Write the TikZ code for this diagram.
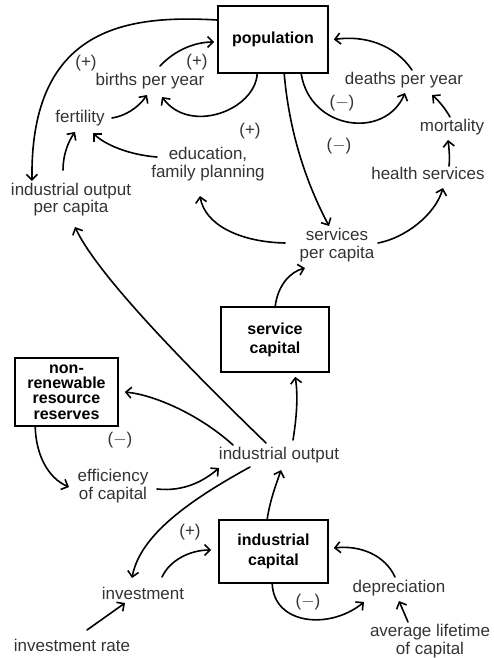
\documentclass[tikz,border=0pt]{standalone}
\usepackage{fontspec}
\setmainfont{Liberation Sans}
\usetikzlibrary{arrows.meta}
\definecolor{ink}{HTML}{333333}
\begin{document}
\begin{tikzpicture}[x=1pt,y=-1pt,
  lbl/.style={inner sep=0pt, align=center, text=ink, font=\fontsize{17}{17.5}\selectfont},
  box/.style={draw, line width=1.6pt, inner sep=0pt, align=center},
  conn/.style={line width=1.6pt, line cap=round, -{Straight Barb[length=5.5pt,width=11pt,line width=1.6pt]}}]
\useasboundingbox (0,0) rectangle (493,658);
% boxes
\node[box, minimum width=110pt, minimum height=67pt, font=\fontsize{16}{18}\bfseries] (pop) at (273,39.5) {population};
\node[box, minimum width=108pt, minimum height=65pt, font=\fontsize{16}{19}\bfseries] (scap) at (275,339.5) {service\\capital};
\node[box, minimum width=103pt, minimum height=68pt, font=\fontsize{16}{15.3}\bfseries] (nrr) at (66.5,392) {non-\\renewable\\resource\\reserves};
\node[box, minimum width=109pt, minimum height=63pt, font=\fontsize{16}{20}\bfseries] (icap) at (273.5,551.5) {industrial\\capital};
% labels
\node[lbl] (births) at (150,81) {births per year};
\node[lbl] (plusA) at (86,63) {(+)};
\node[lbl] (plusB) at (197,62) {(+)};
\node[lbl] (fert) at (80,118) {fertility};
\node[lbl] (edu) at (208,164) {education,\\family planning};
\node[lbl] (iopc) at (71,199.5) {industrial output\\per capita};
\node[lbl] (deaths) at (404,80) {deaths per year};
\node[lbl] (minusA) at (342,103) {($-$)};
\node[lbl] (mort) at (452,127) {mortality};
\node[lbl] (plusC) at (250,131) {(+)};
\node[lbl] (minusB) at (339,146) {($-$)};
\node[lbl] (health) at (428,173) {health services};
\node[lbl] (spc) at (337,245) {services\\per capita};
\node[lbl] (minusC) at (120,440) {($-$)};
\node[lbl] (io) at (279,455) {industrial output};
\node[lbl] (eff) at (113,486) {efficiency\\of capital};
\node[lbl] (plusD) at (190,532) {(+)};
\node[lbl] (inv) at (143,593) {investment};
\node[lbl] (invrate) at (72,645) {investment rate};
\node[lbl] (dep) at (399,588) {depreciation};
\node[lbl] (minusE) at (308,602) {($-$)};
\node[lbl] (avgl) at (430,641) {average lifetime\\of capital};
% connectors
\draw[conn] ([yshift=19.5pt]pop.west) .. controls (130,15) and (30,25) .. ([xshift=-39pt,yshift=18.5pt]iopc.center);
\draw[conn] ([xshift=10pt,yshift=15pt]births.center) .. controls (175,50) and (195,42) .. ([xshift=-3pt,yshift=-2.5pt]pop.west);
\draw[conn] ([xshift=40pt]pop.south west) .. controls (255,110) and (190,135) .. ([xshift=12pt,yshift=-16pt]births.center);
\draw[conn] ([xshift=32pt]fert.center) .. controls (125,116) and (138,108) .. ([xshift=-3pt,yshift=-14pt]births.center);
\draw[conn] ([xshift=-8pt,yshift=29.5pt]iopc.center) .. controls (63,155) and (68,142) .. ([xshift=-5pt,yshift=-14pt]fert.center);
\draw[conn] ([xshift=-51pt,yshift=7pt]edu.center) .. controls (130,155) and (105,145) .. ([xshift=13pt,yshift=-15pt]fert.center);
\draw[conn] ([xshift=-52pt,yshift=2pt]spc.center) .. controls (240,242) and (205,225) .. ([xshift=-8pt,yshift=-32pt]edu.center);
\draw[conn] ([xshift=84pt]pop.south west) .. controls (310,130) and (385,140) .. ([xshift=1pt,yshift=-13pt]deaths.center);
\draw[conn] ([xshift=8pt,yshift=10pt]deaths.center) .. controls (395,45) and (365,35) .. ([xshift=5pt]pop.east);
\draw[conn] ([xshift=-2pt,yshift=10pt]mort.center) .. controls (445,108) and (438,100) .. ([xshift=28pt,yshift=-15pt]deaths.center);
\draw[conn] ([xshift=21pt,yshift=7pt]health.center) .. controls (450,158) and (449,148) .. ([xshift=-4pt,yshift=-13pt]mort.center);
\draw[conn] ([xshift=41pt,yshift=2pt]spc.center) .. controls (405,238) and (435,215) .. ([xshift=15pt,yshift=-15pt]health.center);
\draw[conn] ([xshift=67pt]pop.south west) .. controls (290,140) and (310,190) .. ([xshift=-8pt,yshift=19pt]spc.center);
\draw[conn] ([xshift=55pt]scap.north west) .. controls (278,285) and (290,272) .. ([xshift=-32pt,yshift=-23pt]spc.center);
\draw[conn] ([xshift=14pt,yshift=15pt]io.center) .. controls (297,415) and (298,395) .. ([xshift=75pt,yshift=-4pt]scap.south west);
\draw[conn] ([xshift=-13pt,yshift=12pt]io.center) .. controls (170,350) and (95,270) .. ([xshift=4pt,yshift=-27.5pt]iopc.center);
\draw[conn] ([xshift=-46pt,yshift=10pt]io.center) .. controls (200,415) and (155,395) .. ([xshift=6pt]nrr.east);
\draw[conn] ([xshift=21pt]nrr.south west) .. controls (36,455) and (48,478) .. ([xshift=-44pt,yshift=-1pt]eff.center);
\draw[conn] ([xshift=44pt,yshift=-3pt]eff.center) .. controls (185,492) and (205,480) .. ([xshift=-60pt,yshift=-13pt]io.center);
\draw[conn] ([xshift=-29pt,yshift=-12pt]io.center) .. controls (190,500) and (140,535) .. ([xshift=-11pt,yshift=15pt]inv.center);
\draw[conn] ([xshift=19pt,yshift=16pt]inv.center) .. controls (170,560) and (190,550) .. ([xshift=-7pt,yshift=1.5pt]icap.west);
\draw[conn] ([xshift=49pt]icap.north west) .. controls (270,500) and (276,485) .. ([xshift=2pt,yshift=-15pt]io.center);
\draw[conn] ([xshift=-4pt,yshift=11pt]dep.center) .. controls (385,555) and (360,545) .. ([xshift=5pt,yshift=3.5pt]icap.east);
\draw[conn] ([xshift=54pt]icap.south west) .. controls (274,625) and (330,630) .. ([xshift=-35pt,yshift=-14pt]dep.center);
\draw[conn] ([xshift=-22pt,yshift=19pt]avgl.center) .. controls (405,615) and (402,608) .. ([yshift=-13pt]dep.center);
\draw[conn] ([xshift=15pt,yshift=15pt]invrate.center) -- ([xshift=-18pt,yshift=-10pt]inv.center);
\end{tikzpicture}
\end{document}
